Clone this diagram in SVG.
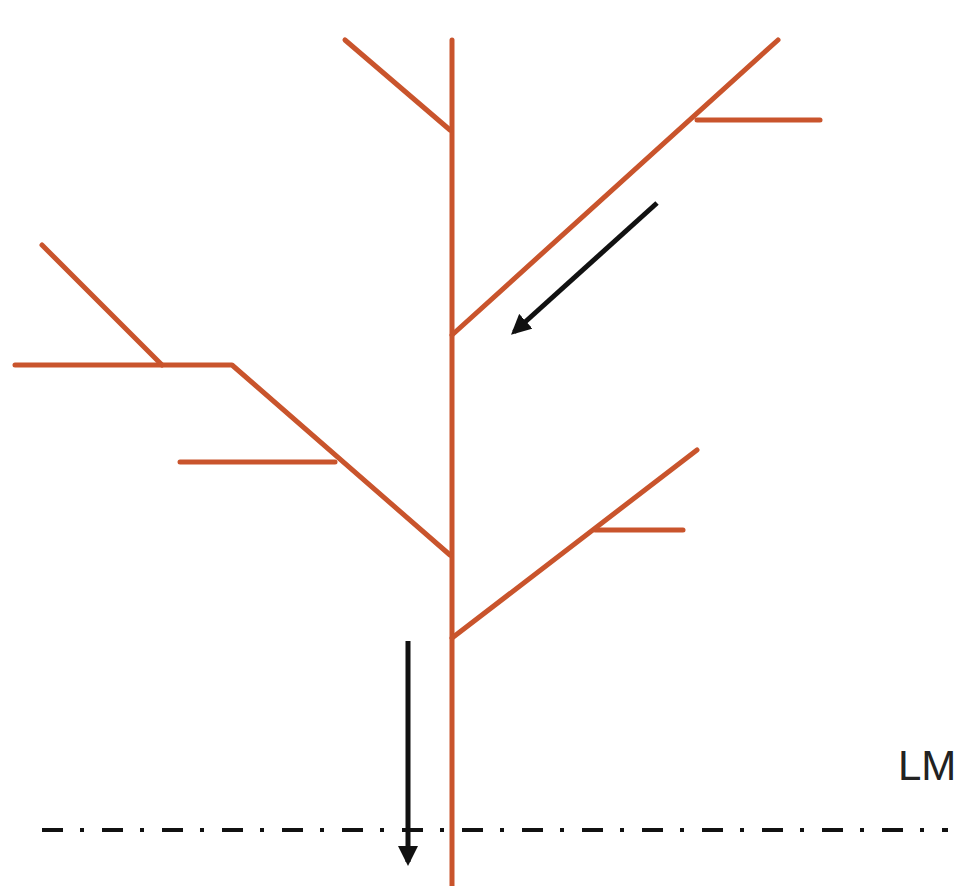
<svg xmlns="http://www.w3.org/2000/svg" width="961" height="886" viewBox="0 0 961 886">
<style>
.br{stroke:#C9542C;stroke-width:5;fill:none;stroke-linecap:round;stroke-linejoin:round}
.ar{stroke:#111;stroke-width:5;fill:none}
</style>
<defs>
<marker id="ah" viewBox="0 0 10 10" refX="8" refY="5" markerWidth="4" markerHeight="4" orient="auto" markerUnits="strokeWidth">
<path d="M0,0 L10,5 L0,10 z" fill="#111"/>
</marker>
</defs>
<rect width="961" height="886" fill="#fff"/>
<g id="tree">
<line class="br" x1="452" y1="40" x2="452" y2="886"/>
<line class="br" x1="345" y1="40" x2="450" y2="130"/>
<line class="br" x1="452" y1="335" x2="778" y2="40"/>
<line class="br" x1="697" y1="120" x2="820" y2="120"/>
<polyline class="br" points="450,555 232,365 15,365"/>
<line class="br" x1="42" y1="245" x2="162" y2="365"/>
<line class="br" x1="180" y1="462" x2="335" y2="462"/>
<line class="br" x1="452" y1="638" x2="697" y2="450"/>
<line class="br" x1="595" y1="530" x2="683" y2="530"/>
</g>
<g id="connectors">
<line class="ar" x1="657" y1="203" x2="514" y2="332" marker-end="url(#ah)"/>
<line class="ar" x1="408" y1="641" x2="408" y2="862" marker-end="url(#ah)"/>
<line x1="42" y1="830" x2="948" y2="830" stroke="#111" stroke-width="4" stroke-dasharray="21 17 4 18"/>
</g>
<text id="lm" x="898" y="780" font-family="Liberation Sans, Arial, sans-serif" font-size="42" fill="#222">LM</text>
</svg>
